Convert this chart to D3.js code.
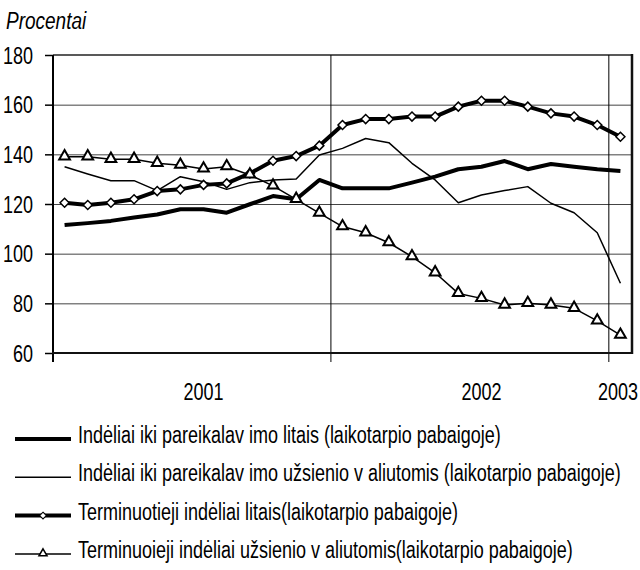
<!DOCTYPE html>
<html>
<head>
<meta charset="utf-8">
<script src="https://cdn.jsdelivr.net/npm/d3@7"></script>
<style>
  body { margin: 0; background: #fff; }
  text { font-family: "Liberation Sans", Arial, sans-serif; fill: #000; }
</style>
</head>
<body>
<div id="chart"></div>
<script>
// Category axis: month ends Jan 2001 .. Jan 2003
const months = [
  "2001-01", "2001-02", "2001-03", "2001-04", "2001-05", "2001-06",
  "2001-07", "2001-08", "2001-09", "2001-10", "2001-11", "2001-12",
  "2002-01", "2002-02", "2002-03", "2002-04", "2002-05", "2002-06",
  "2002-07", "2002-08", "2002-09", "2002-10", "2002-11", "2002-12",
  "2003-01"
];
const yearLabels = { "2001-07": "2001", "2002-07": "2002", "2003-01": "2003" };
const yearStarts = ["2002-01", "2003-01"];
const yTicks = [60, 80, 100, 120, 140, 160, 180];

// Series (percent)
const demandLitas = [111.5, 112.3, 113.2, 114.6, 115.8, 117.9, 117.9, 116.5, 119.9, 123.2, 121.9, 129.7,
  126.3, 126.3, 126.3, 128.6, 131.0, 134.0, 135.0, 137.3, 134.0, 136.1, 135.0, 134.0, 133.3];
const demandForeign = [135.0, 132.1, 129.4, 129.4, 125.4, 131.0, 129.0, 125.9, 128.6, 129.7, 130.1, 139.7,
  142.4, 146.4, 144.7, 136.4, 129.7, 120.5, 123.6, 125.4, 127.0, 120.3, 116.5, 108.4, 88.1];
const termLitas = [120.5, 119.6, 120.5, 121.9, 125.2, 125.9, 127.7, 128.3, 132.3, 137.4, 139.3, 143.5,
  151.8, 154.2, 154.2, 155.2, 155.2, 159.2, 161.6, 161.6, 159.2, 156.5, 155.2, 151.8, 147.1];
const termForeign = [139.0, 139.0, 138.0, 138.0, 136.4, 135.6, 134.1, 135.0, 131.7, 127.3, 121.9, 116.3,
  110.9, 108.4, 104.4, 98.8, 92.3, 84.0, 82.0, 79.3, 80.0, 79.3, 78.0, 72.9, 67.2];

const seriesNames = [
  "Indėliai iki pareikalav imo litais (laikotarpio pabaigoje)",
  "Indėliai iki pareikalav imo užsienio v aliutomis (laikotarpio pabaigoje)",
  "Terminuotieji indėliai litais(laikotarpio pabaigoje)",
  "Terminuoieji indėliai užsienio v aliutomis(laikotarpio pabaigoje)"
];

const series = [
  { name: seriesNames[0], values: demandLitas, width: 4, marker: null },
  { name: seriesNames[1], values: demandForeign, width: 1.5, marker: null },
  { name: seriesNames[2], values: termLitas, width: 4, marker: "diamond" },
  { name: seriesNames[3], values: termForeign, width: 1.5, marker: "triangle" }
];

const W = 640, H = 570;
const plot = { left: 53, right: 632, top: 55, bottom: 353 };
const FS = 18, STRETCH = 1.28; // the original text is drawn tall and narrow

const svg = d3.select("#chart").append("svg")
  .attr("width", W).attr("height", H);

const x = d3.scaleBand().domain(months).range([plot.left, plot.right]).padding(0);
const xc = m => x(m) + x.bandwidth() / 2;
const y = d3.scaleLinear().domain([60, 180]).range([plot.bottom, plot.top]);

// place a vertically stretched label
function label(sel, tx, ty, size = FS) {
  return sel.attr("x", 0).attr("y", 0)
    .attr("font-size", size)
    .attr("transform", `translate(${tx},${ty}) scale(1,${STRETCH})`);
}

// gridlines
svg.append("g")
  .attr("transform", `translate(${plot.left},0)`)
  .call(d3.axisLeft(y).tickValues(yTicks.slice(1, -1)).tickSize(-(plot.right - plot.left)).tickFormat(""))
  .call(g => g.select(".domain").remove())
  .call(g => g.selectAll("line").attr("stroke", "#444").attr("stroke-width", 1));

// top border
svg.append("line")
  .attr("x1", plot.left).attr("x2", plot.right)
  .attr("y1", y(180)).attr("y2", y(180))
  .attr("stroke", "#222").attr("stroke-width", 1.5);

// year separators (extend below the axis as ticks)
svg.append("g").selectAll("line")
  .data(yearStarts)
  .join("line")
  .attr("x1", d => x(d)).attr("x2", d => x(d))
  .attr("y1", plot.top).attr("y2", plot.bottom + 9)
  .attr("stroke", "#000").attr("stroke-width", 1);

// right border
svg.append("line")
  .attr("x1", plot.right).attr("x2", plot.right)
  .attr("y1", plot.top - 1).attr("y2", plot.bottom + 1)
  .attr("stroke", "#111").attr("stroke-width", 2.5);

// y axis
const yAxis = svg.append("g")
  .attr("transform", `translate(${plot.left},0)`)
  .call(d3.axisLeft(y).tickValues(yTicks).tickSize(8))
  .call(g => g.select(".domain").attr("d", `M0,${plot.top}V${plot.bottom + 9}`).attr("stroke-width", 2));
yAxis.selectAll("line").attr("stroke-width", 1.5);
yAxis.selectAll("text")
  .attr("dy", null)
  .call(t => label(t, -20, 8))
  .attr("text-anchor", "end");

// x axis line
svg.append("line")
  .attr("x1", plot.left - 1).attr("x2", plot.right + 1)
  .attr("y1", plot.bottom).attr("y2", plot.bottom)
  .attr("stroke", "#111").attr("stroke-width", 2);

// x labels
svg.append("g").selectAll("text")
  .data(months.filter(m => yearLabels[m]))
  .join("text")
  .each(function(d) { label(d3.select(this), Math.min(xc(d), 618), 400); })
  .attr("text-anchor", "middle")
  .text(d => yearLabels[d]);

// y title
svg.append("text")
  .call(t => label(t, 6, 29, 19))
  .attr("font-style", "italic")
  .text("Procentai");

// lines
const line = d3.line().x((d, i) => xc(months[i])).y(d => y(d));
const diamond = "M0,-4.5L4.5,0L0,4.5L-4.5,0Z";
const triangle = d3.symbol().type(d3.symbolTriangle).size(50)();

function drawMarker(g, type) {
  if (type === "diamond") {
    g.append("path").attr("d", diamond)
      .attr("fill", "#fff").attr("stroke", "#000").attr("stroke-width", 1.5);
  } else if (type === "triangle") {
    g.append("path").attr("d", triangle).attr("transform", "translate(0,-0.5)")
      .attr("fill", "#fff").attr("stroke", "#000").attr("stroke-width", 2);
  }
}

series.forEach(s => {
  svg.append("path")
    .datum(s.values)
    .attr("d", line)
    .attr("fill", "none")
    .attr("stroke", "#000")
    .attr("stroke-width", s.width)
    .attr("stroke-linejoin", "round");
  if (s.marker) {
    svg.append("g").selectAll("g")
      .data(s.values)
      .join("g")
      .attr("transform", (d, i) => `translate(${xc(months[i])},${y(d)})`)
      .each(function() { drawMarker(d3.select(this), s.marker); });
  }
});

// legend
const legend = svg.append("g").attr("transform", "translate(15,439)");
const rows = legend.selectAll("g")
  .data(series)
  .join("g")
  .attr("transform", (d, i) => `translate(0,${i * 38.3})`);
rows.append("line")
  .attr("x1", 0).attr("x2", 56)
  .attr("stroke", "#000")
  .attr("stroke-width", d => d.width);
rows.each(function(d) {
  if (d.marker) {
    const m = d3.select(this).append("g").attr("transform", "translate(28,0) scale(0.75)");
    drawMarker(m, d.marker);
  }
});
rows.append("text")
  .call(t => label(t, 63, 4))
  .text(d => d.name);
</script>
</body>
</html>
